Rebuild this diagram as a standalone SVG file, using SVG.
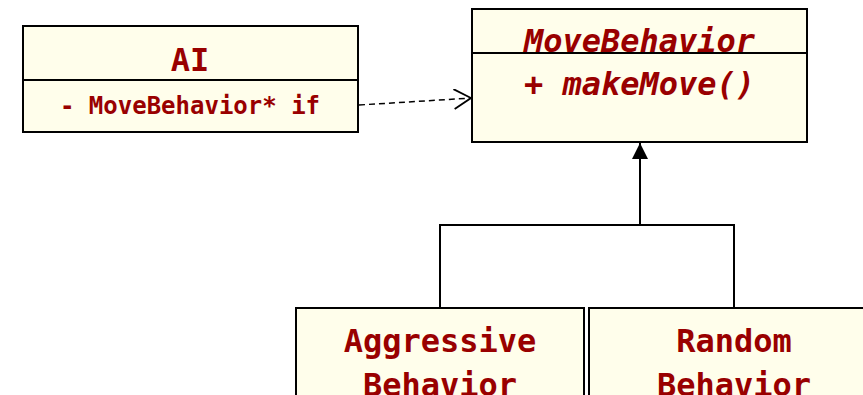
<svg xmlns="http://www.w3.org/2000/svg" width="863" height="395" viewBox="0 0 863 395">
<style>
.box{fill:#fffeeb;stroke:#000;stroke-width:2}
.div{stroke:#000;stroke-width:2}
.t{font-family:"DejaVu Sans Mono","Liberation Mono",monospace;font-weight:bold;fill:#990000;text-anchor:middle}
.big{font-size:32px}
.small{font-size:24px}
.it{font-style:italic}
.ln{fill:none;stroke:#000;stroke-width:2}
.dash{fill:none;stroke:#000;stroke-width:1.5;stroke-dasharray:6 4}
</style>
<defs>
<marker id="open" markerWidth="20" markerHeight="22" refX="18" refY="10" orient="auto" markerUnits="userSpaceOnUse">
<path d="M1,0 L18,10 L1,20" fill="none" stroke="#000" stroke-width="1.8"/>
</marker>
<marker id="tri" markerWidth="18" markerHeight="18" refX="16" refY="8" orient="auto" markerUnits="userSpaceOnUse">
<path d="M0,0 L16,8 L0,16 Z" fill="#000"/>
</marker>
</defs>
<rect width="863" height="395" fill="#fff"/>
<g id="connectors">
<path class="dash" d="M359,105 L471,98" marker-end="url(#open)"/>
<path class="ln" d="M440,308 L440,225 L734,225 L734,308"/>
<path class="ln" d="M640,225 L640,143" marker-end="url(#tri)"/>
</g>
<g id="ai">
<rect class="box" x="23" y="26" width="335" height="106"/>
<line class="div" x1="23" y1="80" x2="358" y2="80"/>
<text class="t big" x="190" y="71">AI</text>
<text class="t small" x="190" y="114">- MoveBehavior* if</text>
</g>
<g id="movebehavior">
<rect class="box" x="472" y="9" width="335" height="133"/>
<line class="div" x1="472" y1="53" x2="807" y2="53"/>
<text class="t big it" x="639.5" y="52">MoveBehavior</text>
<text class="t big it" x="639.5" y="95">+ makeMove()</text>
</g>
<g id="aggressive">
<rect class="box" x="296" y="308" width="288" height="110"/>
<text class="t big" x="440" y="352">Aggressive</text>
<text class="t big" x="440" y="396">Behavior</text>
</g>
<g id="random">
<rect class="box" x="589" y="308" width="288" height="110"/>
<text class="t big" x="734" y="352">Random</text>
<text class="t big" x="734" y="396">Behavior</text>
</g>
</svg>
